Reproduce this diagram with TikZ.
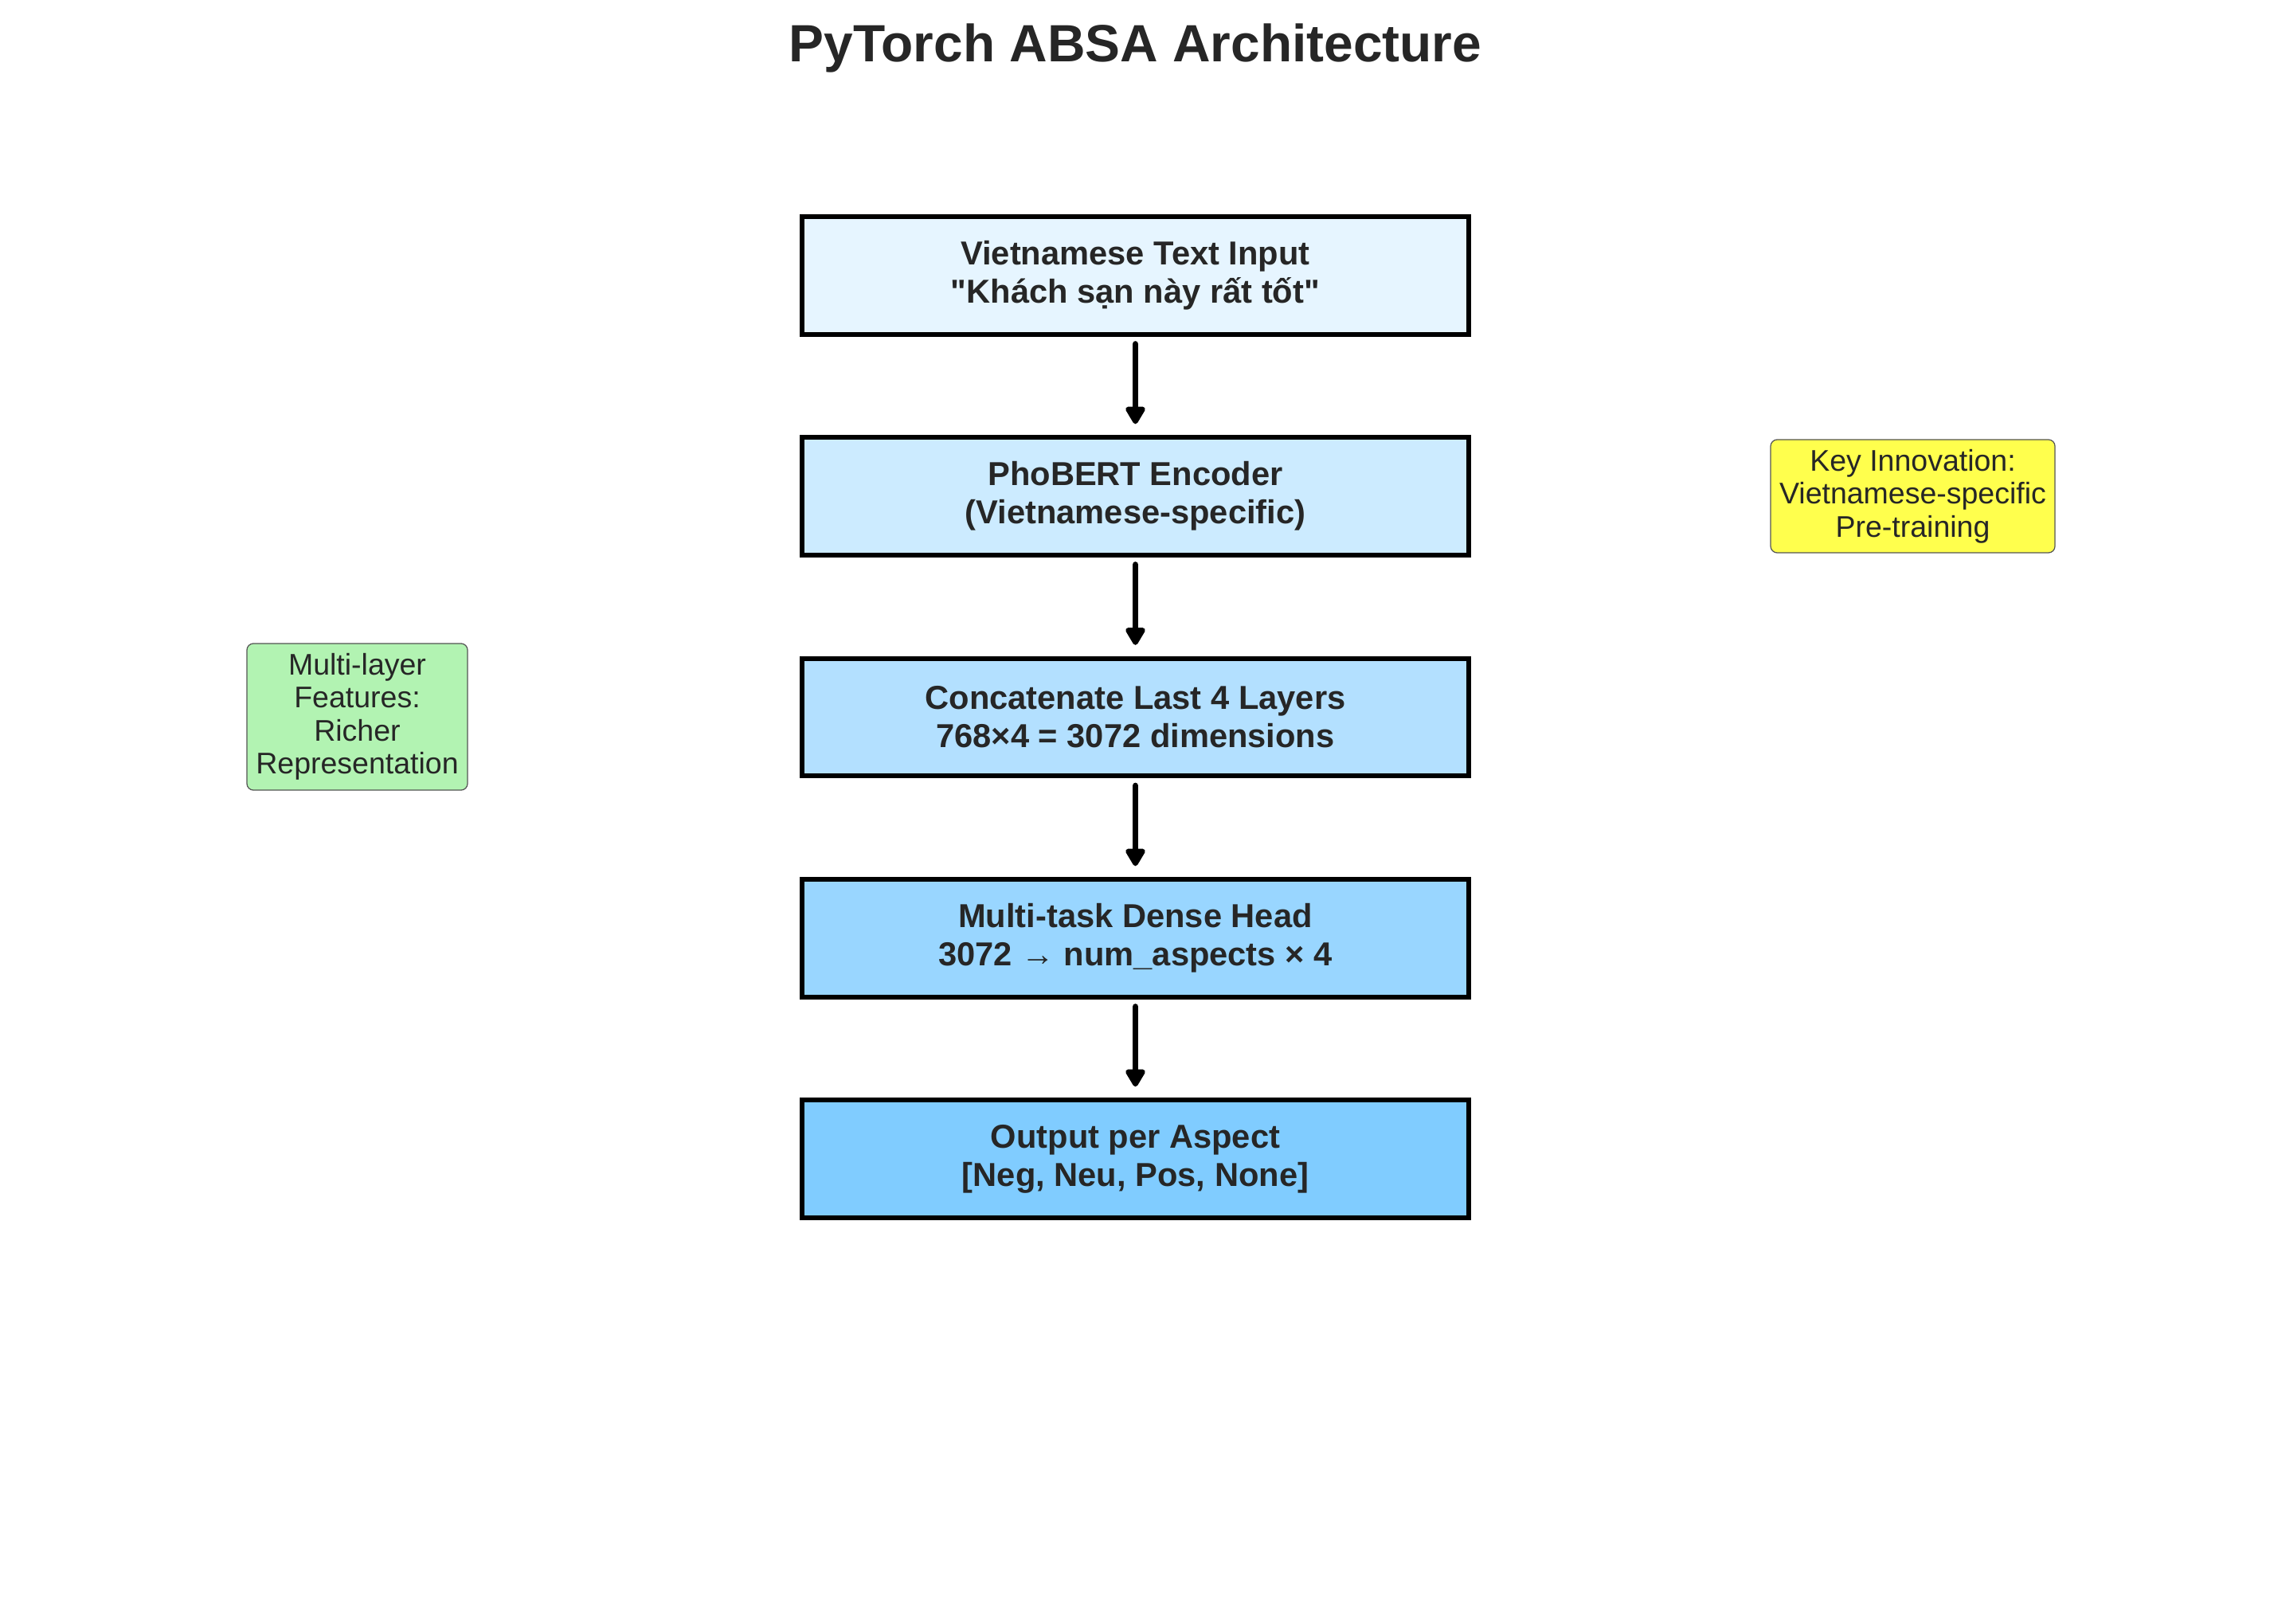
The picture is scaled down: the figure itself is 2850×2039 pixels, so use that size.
\documentclass[tikz,border=0pt]{standalone}
\usepackage{fontspec}
\setmainfont{Liberation Sans}[Ligatures=TeXOff]
\usetikzlibrary{arrows.meta}
\definecolor{txt}{RGB}{38,38,38}
\definecolor{cA}{RGB}{230,245,255}
\definecolor{cB}{RGB}{204,235,255}
\definecolor{cC}{RGB}{179,224,255}
\definecolor{cD}{RGB}{153,214,255}
\definecolor{cE}{RGB}{128,204,255}
\definecolor{noteyellow}{RGB}{255,255,77}
\definecolor{notegreen}{RGB}{178,243,178}
\definecolor{noteborder}{RGB}{85,85,85}
\tikzset{
  mainbox/.style={draw=black, line width=1.44pt, minimum width=200.9pt, minimum height=35.5pt,
    inner sep=0pt, align=center, text=txt, font=\bfseries\fontsize{10}{11.5}\selectfont},
  notebox/.style={draw=noteborder, line width=0.3pt, rounded corners=2pt, inner sep=0pt,
    align=center, text=txt, font=\fontsize{9}{9.96}\selectfont},
  flowarrow/.style={draw=black, line width=1.9pt, line cap=round,
    -{Triangle[length=6pt,width=6.6pt,round]}, shorten <=2.2pt, shorten >=3.3pt}
}
\begin{document}
\begin{tikzpicture}[x=0.24pt, y=-0.24pt]
\useasboundingbox (0,0) rectangle (2850,2039);
\fill[white] (0,0) rectangle (2850,2039);
\node[anchor=base, text=txt, font=\bfseries\fontsize{15.8}{19}\selectfont] (title) at (1425.5,78) {PyTorch ABSA Architecture};
\node[mainbox, fill=cA] (b1) at (1425.5,346) {Vietnamese Text Input\\"Khách sạn này rất tốt"};
\node[mainbox, fill=cB] (b2) at (1425.5,623) {PhoBERT Encoder\\(Vietnamese-specific)};
\node[mainbox, fill=cC] (b3) at (1425.5,900.5) {Concatenate Last 4 Layers\\768×4 = 3072 dimensions};
\node[mainbox, fill=cD] (b4) at (1425.5,1178) {Multi-task Dense Head\\3072 → num\_aspects × 4};
\node[mainbox, fill=cE] (b5) at (1425.5,1455) {Output per Aspect\\{[Neg, Neu, Pos, None]}};
\node[notebox, fill=noteyellow, minimum width=85.7pt, minimum height=34.1pt] (key) at (2401.5,623) {Key Innovation:\\Vietnamese-specific\\Pre-training};
\node[notebox, fill=notegreen, minimum width=66.5pt, minimum height=44.2pt] (multi) at (448.5,900) {Multi-layer\\Features:\\Richer\\Representation};
\draw[flowarrow] (b1.south) -- (b2.north);
\draw[flowarrow] (b2.south) -- (b3.north);
\draw[flowarrow] (b3.south) -- (b4.north);
\draw[flowarrow] (b4.south) -- (b5.north);
\end{tikzpicture}
\end{document}
